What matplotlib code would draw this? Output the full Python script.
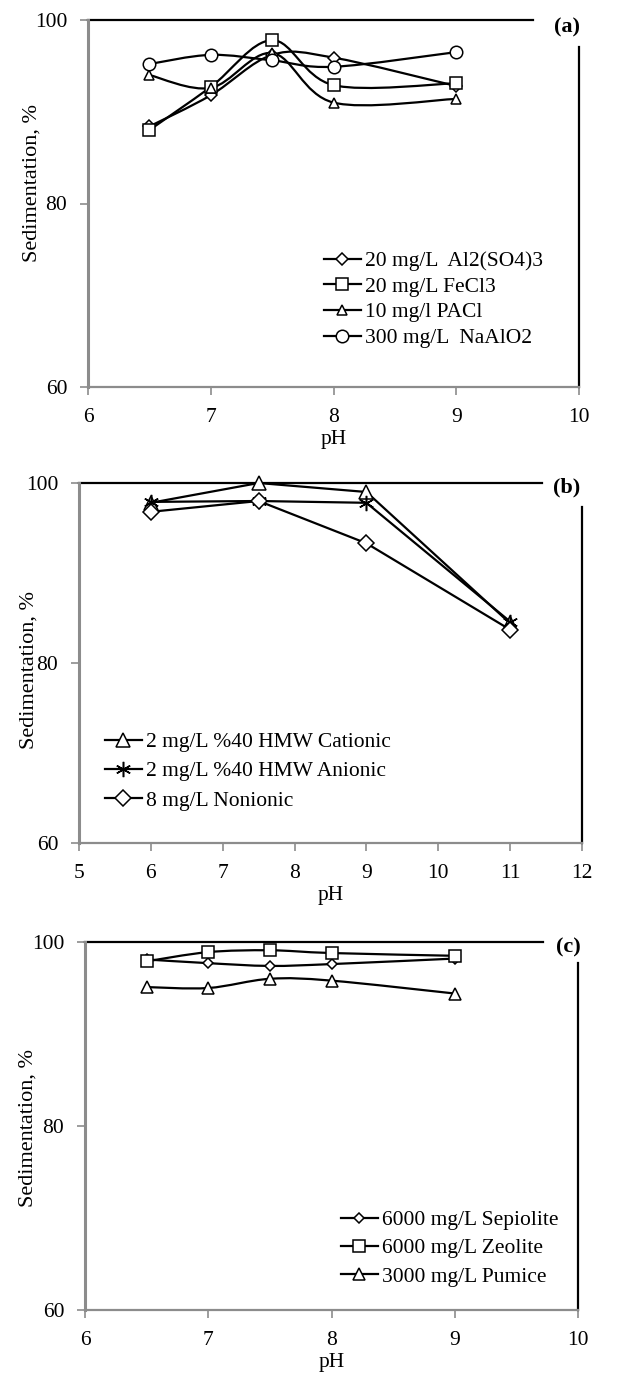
import numpy as np
import matplotlib
matplotlib.use("Agg")
import matplotlib.pyplot as plt
from matplotlib.path import Path
from matplotlib.patches import PathPatch
from matplotlib.lines import Line2D

plt.rcParams['font.family'] = ['Liberation Serif', 'DejaVu Serif']

# ---------------- data ----------------
ph_a = [6.5, 7, 7.5, 8, 9]
labels_a = ["20 mg/L  Al2(SO4)3", "20 mg/L FeCl3", "10 mg/l PACl", "300 mg/L  NaAlO2"]
al2so4 = [88.4, 91.8, 96.2, 95.9, 92.8]
fecl3 = [88.0, 92.7, 97.8, 92.9, 93.1]
pacl = [94.0, 92.6, 96.4, 91.0, 91.4]
naalo2 = [95.2, 96.2, 95.6, 94.9, 96.5]

ph_b = [6, 7.5, 9, 11]
labels_b = ["2 mg/L %40 HMW Cationic", "2 mg/L %40 HMW Anionic", "8 mg/L Nonionic"]
cationic = [97.8, 100.0, 99.0, 84.4]
anionic = [97.9, 98.0, 97.8, 84.6]
nonionic = [96.8, 98.0, 93.3, 83.7]

ph_c = [6.5, 7, 7.5, 8, 9]
labels_c = ["6000 mg/L Sepiolite", "6000 mg/L Zeolite", "3000 mg/L Pumice"]
sepiolite = [98.1, 97.7, 97.4, 97.6, 98.2]
zeolite = [97.9, 98.9, 99.1, 98.8, 98.5]
pumice = [95.1, 95.0, 96.0, 95.8, 94.4]

yticks = [60, 80, 100]
xticks_a = [6, 7, 8, 9, 10]
xticks_b = [5, 6, 7, 8, 9, 10, 11, 12]
xticks_c = [6, 7, 8, 9, 10]

W, H = 638, 1377
DPI = 100
fig = plt.figure(figsize=(W / DPI, H / DPI), dpi=DPI)
GRAY = '#8c8c8c'


def add_axes_px(left, right, top, bottom):
    return fig.add_axes([left / W, 1 - bottom / H, (right - left) / W, (bottom - top) / H])


def smooth_curve(ax, x, y, lw=1.6):
    pts = np.column_stack([x, y]).astype(float)
    n = len(pts)
    verts = [pts[0]]
    codes = [Path.MOVETO]
    for i in range(n - 1):
        p0 = pts[i - 1] if i > 0 else pts[i]
        p1 = pts[i]
        p2 = pts[i + 1]
        p3 = pts[i + 2] if i + 2 < n else pts[i + 1]
        c1 = p1 + (p2 - p0) / 6.0
        c2 = p2 - (p3 - p1) / 6.0
        verts += [c1, c2, p2]
        codes += [Path.CURVE4] * 3
    ax.add_patch(PathPatch(Path(verts, codes), fill=False, edgecolor='black', lw=lw, zorder=2))


def style_axes(ax, xlim, xticks, top_frac, right_frac, tag, tag_xy):
    ax.set_xlim(*xlim)
    ax.set_ylim(60, 100)
    ax.set_xticks(xticks)
    ax.set_yticks(yticks)
    ax.spines['top'].set_visible(False)
    ax.spines['right'].set_visible(False)
    ax.spines['left'].set_color(GRAY)
    ax.spines['left'].set_linewidth(2.2)
    ax.spines['bottom'].set_color(GRAY)
    ax.spines['bottom'].set_linewidth(1.6)
    ax.tick_params(axis='both', direction='out', length=6, width=1.2, color=GRAY,
                   labelsize=15.5, pad=9)
    ax.add_line(Line2D([0, top_frac], [1, 1], transform=ax.transAxes, color='black',
                       lw=1.6, clip_on=False))
    ax.add_line(Line2D([1, 1], [0, right_frac], transform=ax.transAxes, color='black',
                       lw=1.6, clip_on=False))
    fig.text(tag_xy[0] / W, 1 - tag_xy[1] / H, tag, fontsize=16, fontweight='bold',
             ha='center', va='center')


def draw_series(ax, x, ys, markers, sizes, smooth):
    handles = []
    for y, m, s in zip(ys, markers, sizes):
        if smooth:
            smooth_curve(ax, x, y)
        else:
            ax.plot(x, y, color='black', lw=1.6, zorder=2)
        ax.plot(x, y, linestyle='none', marker=m, markersize=s, mfc='white',
                mec='black', mew=1.1, zorder=3, clip_on=False)
        handles.append(Line2D([], [], color='black', lw=1.6, marker=m, markersize=s,
                              mfc='white', mec='black', mew=1.1))
    return handles


def legend_px(ax, handles, labels, left_px, top_px, ax_box, spacing):
    l, r, t, b = ax_box
    ax.legend(handles, labels, loc='upper left',
              bbox_to_anchor=((left_px - l) / (r - l), (b - top_px) / (b - t)),
              frameon=False, fontsize=15.5, handlelength=1.7, handletextpad=0.2,
              labelspacing=spacing, borderaxespad=0, borderpad=0)


# ---------------- panel (a) ----------------
box_a = (88, 579, 20, 387)
ax_a = add_axes_px(*box_a)
style_axes(ax_a, (6, 10), xticks_a, (533 - 88) / 491, (387 - 47) / 367, '(a)', (567, 27))
h = draw_series(ax_a, ph_a, [al2so4, fecl3, pacl, naalo2], ['D', 's', '^', 'o'],
                [6, 8, 7, 9], True)
legend_px(ax_a, h, labels_a, 324, 251, box_a, 0.26)
ax_a.set_xlabel('pH', fontsize=15.5, labelpad=2)

# ---------------- panel (b) ----------------
box_b = (79, 582, 483, 843)
ax_b = add_axes_px(*box_b)
style_axes(ax_b, (5, 12), xticks_b, (542 - 79) / 503, (843 - 507) / 360, '(b)', (567, 487))
h = draw_series(ax_b, ph_b, [cationic, anionic, nonionic], ['^', (6, 2, 0), 'D'],
                [10, 11, 8], False)
legend_px(ax_b, h, labels_b, 105, 732, box_b, 0.43)
ax_b.set_xlabel('pH', fontsize=15.5, labelpad=2)

# ---------------- panel (c) ----------------
box_c = (85, 578, 942, 1310)
ax_c = add_axes_px(*box_c)
style_axes(ax_c, (6, 10), xticks_c, (543 - 85) / 493, (1310 - 963) / 368, '(c)', (568, 947))
h = draw_series(ax_c, ph_c, [sepiolite, zeolite, pumice], ['D', 's', '^'],
                [5, 8, 8], True)
legend_px(ax_c, h, labels_c, 341, 1210, box_c, 0.38)
ax_c.set_xlabel('pH', fontsize=15.5, labelpad=2)

for xy in [(32, 183), (29, 670), (28, 1128)]:
    fig.text(xy[0] / W, 1 - xy[1] / H, 'Sedimentation, %', rotation=90, fontsize=16,
             ha='center', va='center')

fig.savefig('out.png', dpi=DPI, facecolor='white')
